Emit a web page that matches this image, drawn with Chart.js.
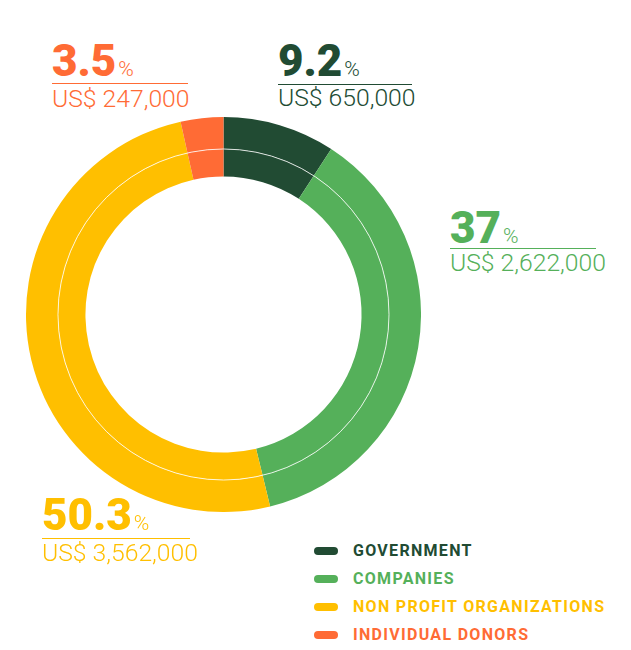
<!DOCTYPE html>
<html>
<head>
<meta charset="utf-8">
<script src="https://cdn.jsdelivr.net/npm/chart.js@4/dist/chart.umd.min.js"></script>
<style>
  html, body { margin: 0; padding: 0; background: #fff; }
  body { width: 631px; height: 650px; position: relative; overflow: hidden; font-family: Roboto, "Open Sans", sans-serif; }
  #wrap { position: absolute; left: 26px; top: 117px; width: 395px; height: 395px; }
  .lbl { position: absolute; white-space: nowrap; }
  .num { position: absolute; font-size: 44px; line-height: 44px; font-weight: 900; letter-spacing: 0px; }
  .num .pct { font-size: 21px; font-weight: 300; margin-left: 2px; }
  .rule { position: absolute; height: 1px; }
  .amt { position: absolute; font-size: 24.7px; line-height: 24.7px; font-weight: 300; }
  #legend { position: absolute; left: 314px; top: 537px; }
  .row { display: flex; align-items: center; height: 28px; }
  .mark { width: 24px; height: 8px; border-radius: 4px; margin-right: 15px; }
  .ltxt { font-size: 16px; line-height: 16px; font-weight: 700; letter-spacing: 1.3px; }
</style>
</head>
<body>
<div id="wrap"><canvas id="c"></canvas></div>
<div id="labels"></div>
<div id="legend"></div>
<script>
// ---- data ----
const categories = ['GOVERNMENT', 'COMPANIES', 'NON PROFIT ORGANIZATIONS', 'INDIVIDUAL DONORS'];
const amounts = [650000, 2622000, 3562000, 247000];
const percentLabels = ['9.2', '37', '50.3', '3.5'];

// ---- styles / layout (kept apart from data) ----
const colors = ['#214b33', '#55b05a', '#ffbf00', '#ff6b35'];
// x, number baseline, rule y, amount baseline, rule width
const labelLayout = [
  { x: 278, nb: 76.5, ry: 84, ab: 107, rw: 134 },
  { x: 450, nb: 243, ry: 248, ab: 272, rw: 146 },
  { x: 42, nb: 530, ry: 538, ab: 562, rw: 148 },
  { x: 52, nb: 76.5, ry: 83.5, ab: 107.5, rw: 136 }
];

const ringLine = {
  id: 'ringLine',
  afterDatasetsDraw(chart) {
    const meta = chart.getDatasetMeta(1);
    if (!meta || !meta.data.length) return;
    const arc = meta.data[0];
    const ctx = chart.ctx;
    ctx.save();
    ctx.beginPath();
    ctx.arc(arc.x, arc.y, arc.outerRadius, 0, Math.PI * 2);
    ctx.strokeStyle = 'rgba(255,255,255,0.8)';
    ctx.lineWidth = 1;
    ctx.stroke();
    ctx.restore();
  }
};

new Chart(document.getElementById('c'), {
  type: 'doughnut',
  data: {
    labels: categories,
    datasets: [
      { data: amounts, backgroundColor: colors, borderWidth: 0, hoverOffset: 0, offset: 0, weight: 32 },
      { data: amounts, backgroundColor: colors, borderWidth: 0, hoverOffset: 0, offset: 0, weight: 27.5 }
    ]
  },
  options: {
    responsive: true,
    maintainAspectRatio: false,
    animation: false,
    cutout: '69.9%',
    layout: { padding: 0 },
    plugins: { legend: { display: false }, tooltip: { enabled: true } }
  },
  plugins: [ringLine]
});

// ---- annotations ----
const asc = 0.8415; // baseline offset ratio for line-height 1 (Roboto)
const labelsEl = document.getElementById('labels');
amounts.forEach((v, i) => {
  const L = labelLayout[i];
  const c = colors[i];
  const num = document.createElement('div');
  num.className = 'lbl num';
  num.style.color = c;
  num.style.left = L.x + 'px';
  num.style.top = (L.nb - asc * 44) + 'px';
  num.innerHTML = percentLabels[i] + '<span class="pct">%</span>';
  labelsEl.appendChild(num);

  const rule = document.createElement('div');
  rule.className = 'rule';
  rule.style.background = c;
  rule.style.left = L.x + 'px';
  rule.style.top = (L.ry - 0.5) + 'px';
  rule.style.width = L.rw + 'px';
  labelsEl.appendChild(rule);

  const amt = document.createElement('div');
  amt.className = 'lbl amt';
  amt.style.color = c;
  amt.style.left = L.x + 'px';
  amt.style.top = (L.ab - asc * 24.7) + 'px';
  amt.textContent = 'US$ ' + v.toLocaleString('en-US');
  labelsEl.appendChild(amt);
});

// ---- legend ----
const legendEl = document.getElementById('legend');
categories.forEach((name, i) => {
  const row = document.createElement('div');
  row.className = 'row';
  row.innerHTML = '<div class="mark" style="background:' + colors[i] + '"></div>' +
    '<div class="ltxt" style="color:' + colors[i] + '">' + name + '</div>';
  legendEl.appendChild(row);
});
</script>
</body>
</html>
